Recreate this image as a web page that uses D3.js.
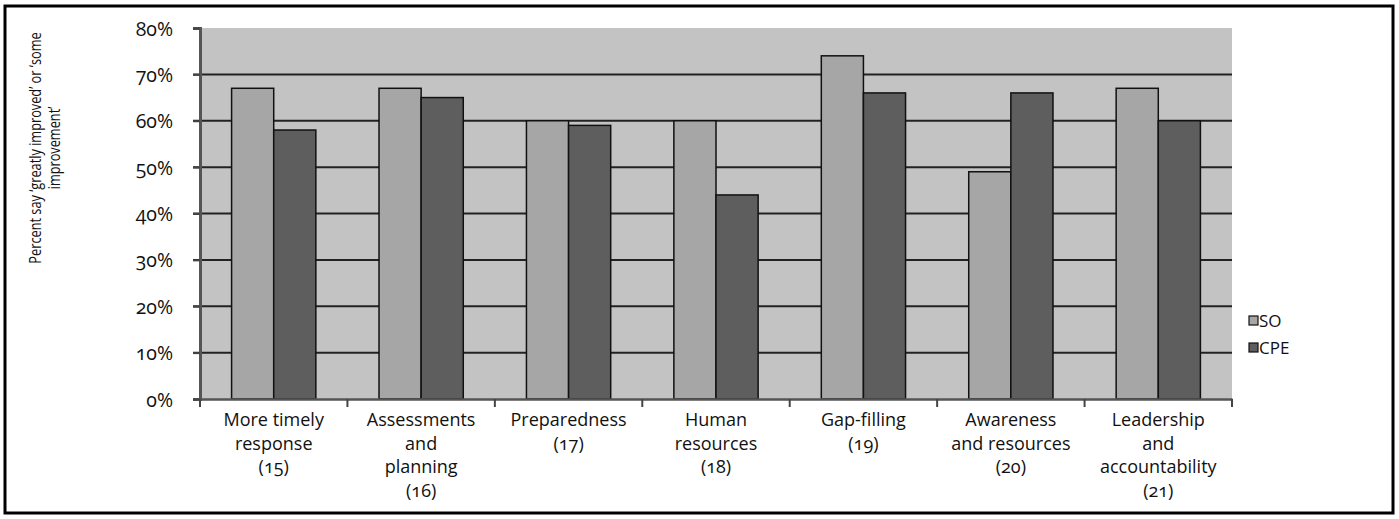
<!DOCTYPE html>
<html>
<head>
<meta charset="utf-8">
<script src="https://cdn.jsdelivr.net/npm/d3@7/dist/d3.min.js"></script>
<style>
  html, body { margin: 0; padding: 0; background: #fff; }
  svg text { font-family: "Open Sans", "Noto Sans", sans-serif; fill: #111; font-feature-settings: "onum"; }
</style>
</head>
<body>
<svg id="chart" width="1399" height="519"></svg>
<script>
// ---- data ----
const categories = [
  ["More timely", "response", "(15)"],
  ["Assessments", "and", "planning", "(16)"],
  ["Preparedness", "(17)"],
  ["Human", "resources", "(18)"],
  ["Gap-filling", "(19)"],
  ["Awareness", "and resources", "(20)"],
  ["Leadership", "and", "accountability", "(21)"]
];
const seriesNames = ["SO", "CPE"];
const soValues  = [67, 67, 60, 60, 74, 49, 67];
const cpeValues = [58, 65, 59, 44, 66, 66, 60];
const yTicks = [0, 10, 20, 30, 40, 50, 60, 70, 80];
const yTitle = ["Percent say \u2018greatly improved\u2019 or \u2018some", "improvement\u2019"];

// ---- layout ----
const svg = d3.select("#chart");
const plot = { left: 200, right: 1232, top: 28, bottom: 399 };
const colors = { SO: "#a6a6a6", CPE: "#5e5e5e" };

// outer frame
svg.append("rect").attr("x", 5).attr("y", 6).attr("width", 1388).attr("height", 507)
  .attr("fill", "none").attr("stroke", "#000").attr("stroke-width", 3);

const x0 = d3.scaleBand().domain(d3.range(categories.length))
  .range([plot.left, plot.right]).paddingInner(0).paddingOuter(0);
const x1 = d3.scaleBand().domain(seriesNames)
  .range([0, x0.bandwidth()]).paddingInner(0).paddingOuter(0.75);
const y = d3.scaleLinear().domain([0, 80]).range([plot.bottom, plot.top]);

// plot background
svg.append("rect").attr("x", plot.left).attr("y", plot.top)
  .attr("width", plot.right - plot.left).attr("height", plot.bottom - plot.top)
  .attr("fill", "#c3c3c3");

// gridlines (10..70)
svg.append("g").selectAll("line").data(yTicks.filter(d => d > 0 && d < 80)).join("line")
  .attr("x1", plot.left - 7).attr("x2", plot.right)
  .attr("y1", d => y(d)).attr("y2", d => y(d))
  .attr("stroke", "#222").attr("stroke-width", 2);

// y axis
const yAxis = d3.axisLeft(y).tickValues(yTicks).tickFormat(d => d + "%").tickSize(7).tickPadding(20);
const ya = svg.append("g").attr("transform", `translate(${plot.left},0)`).call(yAxis);
ya.select(".domain").attr("stroke", "#555").attr("stroke-width", 3);
ya.selectAll(".tick line").attr("stroke", "#444").attr("stroke-width", 2);
ya.selectAll(".tick text").style("font-size", "19.5px").attr("fill", "#111")
  .attr("dy", "0.36em");

// bars
const data = categories.map((c, i) => ({ i, values: [
  { key: "SO", v: soValues[i] }, { key: "CPE", v: cpeValues[i] } ] }));
const groups = svg.append("g").selectAll("g").data(data).join("g")
  .attr("transform", d => `translate(${x0(d.i)},0)`);
groups.selectAll("rect").data(d => d.values).join("rect")
  .attr("x", d => x1(d.key)).attr("width", x1.bandwidth())
  .attr("y", d => y(d.v)).attr("height", d => y(0) - y(d.v))
  .attr("fill", d => colors[d.key]).attr("stroke", "#111").attr("stroke-width", 1.5);

// x axis
const xAxis = d3.axisBottom(x0).tickSize(0).tickFormat("");
const xa = svg.append("g").attr("transform", `translate(0,${plot.bottom})`).call(xAxis);
xa.select(".domain").attr("stroke", "#555").attr("stroke-width", 2.5);
xa.selectAll(".tick").remove();
// category tick marks at boundaries
svg.append("g").selectAll("line").data(d3.range(categories.length + 1)).join("line")
  .attr("x1", d => d < categories.length ? x0(d) : plot.right)
  .attr("x2", d => d < categories.length ? x0(d) : plot.right)
  .attr("y1", plot.bottom).attr("y2", plot.bottom + 8)
  .attr("stroke", "#444").attr("stroke-width", 2);

// category labels
const lab = svg.append("g").selectAll("text").data(categories).join("text")
  .attr("x", (d, i) => x0(i) + x0.bandwidth() / 2)
  .attr("y", plot.bottom + 27)
  .attr("text-anchor", "middle").attr("font-size", 18);
lab.selectAll("tspan").data(d => d).join("tspan")
  .attr("x", function() { return d3.select(this.parentNode).attr("x"); })
  .attr("dy", (d, i) => i === 0 ? 0 : 23.5)
  .text(d => d);

// y title
const yt = svg.append("text").attr("transform", "translate(41,148) rotate(-90) scale(0.75,1)")
  .attr("text-anchor", "middle").attr("font-size", 17);
yt.selectAll("tspan").data(yTitle).join("tspan")
  .attr("x", 0).attr("dy", (d, i) => i === 0 ? 0 : 19).text(d => d);

// legend
const leg = svg.append("g").selectAll("g").data(seriesNames).join("g")
  .attr("transform", (d, i) => `translate(1249,${316 + i * 27})`);
leg.append("rect").attr("width", 9).attr("height", 9)
  .attr("fill", d => colors[d]).attr("stroke", "#111").attr("stroke-width", 1.2);
leg.append("text").attr("x", 10).attr("y", 10.5).attr("font-size", 17).text(d => d);
</script>
</body>
</html>
